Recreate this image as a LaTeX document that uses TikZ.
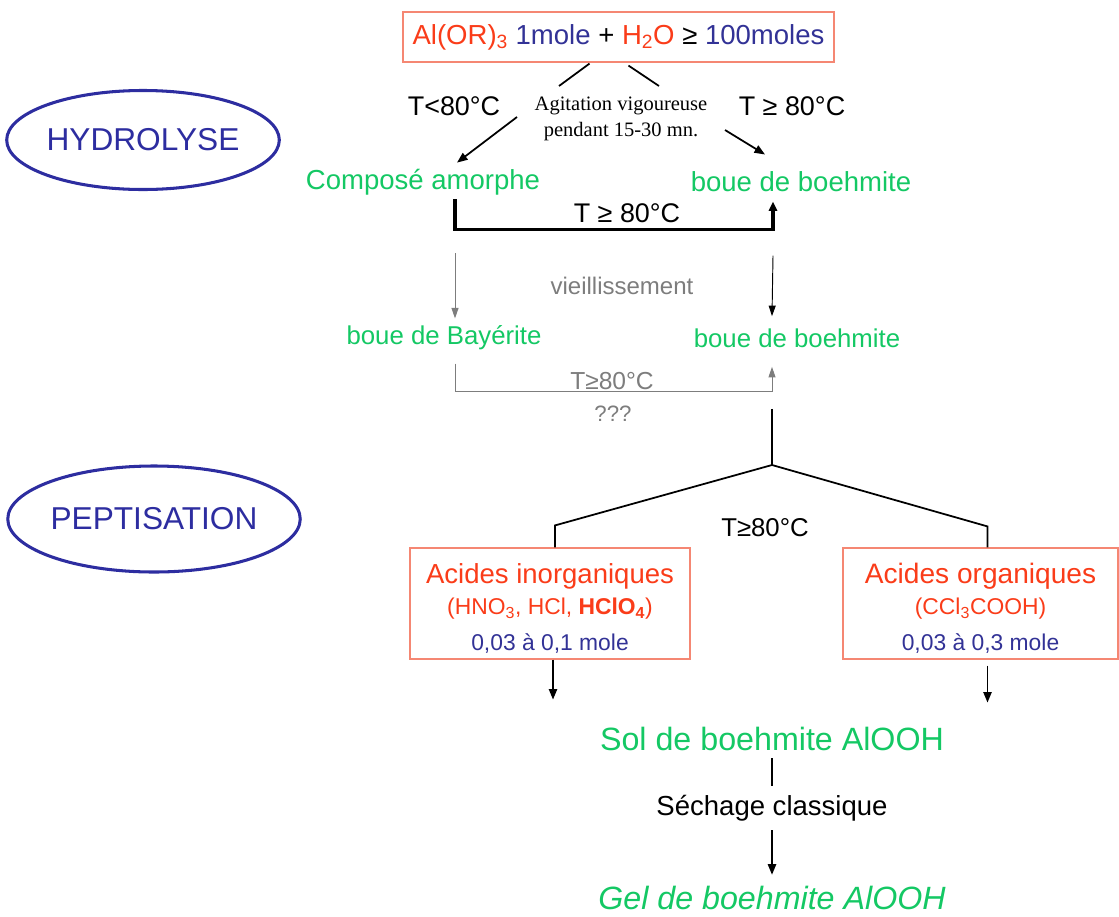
\documentclass[tikz,border=0pt]{standalone}
\usepackage{fontspec}
\setmainfont{Liberation Sans}
\newfontfamily\agitfont{Liberation Serif}
\usepackage{xcolor}
\usetikzlibrary{arrows.meta, positioning, calc, shapes.geometric}
\definecolor{acidred}{RGB}{250, 60, 25}
\definecolor{boxred}{RGB}{245, 135, 115}
\definecolor{moleblue}{RGB}{50, 50, 150}
\definecolor{phaseblue}{RGB}{45, 45, 160}
\definecolor{solgreen}{RGB}{20, 200, 100}
\definecolor{agegray}{RGB}{125, 125, 125}

\begin{document}
\begin{tikzpicture}[x=0.03cm, y=-0.03cm,
    txt/.style={inner sep=1pt},
    greentxt/.style={txt, text=solgreen},
    graytxt/.style={txt, text=agegray},
    redbox/.style={draw=boxred, line width=1pt, align=center, inner sep=0pt, minimum height=3.33cm},
    phase/.style={ellipse, draw=phaseblue, line width=2.6pt, text=phaseblue, inner sep=0pt, font=\fontsize{27}{27}\selectfont},
    pen/.style={line width=1.5pt},
    flow/.style={pen, -{Triangle[length=9pt, width=7pt]}},
    ageflow/.style={line width=0.8pt, -{Triangle[length=9pt, width=6pt]}},
  ]
    \useasboundingbox (0,0) rectangle (1119,916);

    % phases
    \node[phase, minimum width=7.6cm, minimum height=2.97cm] (hydro) at (143,140) {HYDROLYSE};
    \node[phase, minimum width=8.4cm, minimum height=3.18cm] (pepti) at (154,519) {PEPTISATION};

    % hydrolyse
    \node[redbox, minimum width=12.93cm, minimum height=1.5cm, font=\fontsize{23.5}{23.5}\selectfont] (top) at (618.5,37)
        {\textcolor{acidred}{Al(OR)\textsubscript{3}} \textcolor{moleblue}{1mole} + \textcolor{acidred}{H\textsubscript{2}O} ≥ \textcolor{moleblue}{100moles}};
    \node[txt, font=\fontsize{23}{23}\selectfont] (tlow) at (454,106) {T<80°C};
    \node[txt, font=\fontsize{23}{23}\selectfont] (thigh) at (792,106) {T ≥ 80°C};
    \node[txt, align=center, font=\agitfont\fontsize{17.5}{22}\selectfont] (agit) at (621,119) {Agitation vigoureuse\\pendant 15-30 mn.};
    \node[greentxt, font=\fontsize{23.5}{23.5}\selectfont] (amorph) at (423,182) {Composé amorphe};
    \node[greentxt, font=\fontsize{23.5}{23.5}\selectfont] (boehA) at (801,182) {boue de boehmite};

    \coordinate (agL1) at (559,86);
    \coordinate (agL2) at (517,117);
    \coordinate (agR1) at (659,86);
    \coordinate (agR2) at (725,130);
    \draw[pen] ($(top.south)+(-29,1)$) -- (agL1);
    \draw[flow] (agL2) -- ($(amorph.north)+(34,-5)$);
    \draw[pen] ($(top.south)+(10,3)$) -- (agR1);
    \draw[flow] (agR2) -- ($(boehA.north)+(-36,-16)$);

    \draw[line width=2.8pt, -{Triangle[length=8pt, width=7pt]}] ($(amorph.south)+(32,3)$) -- ++(0,30) -| ($(boehA.south)+(-28,8)$);
    \node[txt, font=\fontsize{23}{23}\selectfont] (tbrack) at (627,213) {T ≥ 80°C};

    % vieillissement
    \node[graytxt, font=\fontsize{20.5}{20.5}\selectfont] (vieil) at (622,286) {vieillissement};
    \node[greentxt, font=\fontsize{22}{22}\selectfont] (bayer) at (444,338) {boue de Bayérite};
    \node[greentxt, font=\fontsize{22}{22}\selectfont] (boehB) at (797,338) {boue de boehmite};
    \draw[ageflow, agegray] ($(amorph.south)+(32,57)$) -- ($(bayer.north)+(11,-6)$);
    \draw[ageflow] ($(boehA.south)+(-28,62)$) -- ($(boehB.north)+(-25,-11)$);

    \draw[ageflow, agegray] ($(bayer.south)+(11,12)$) -- ++(0,28) -| ($(boehB.south)+(-25,18)$);
    \node[graytxt, font=\fontsize{21}{21}\selectfont] (tgray) at (612,381) {T≥80°C};
    \node[graytxt, font=\fontsize{19}{19}\selectfont] (qmark) at (613,414) {???};

    % peptisation
    \node[redbox, minimum width=8.4cm, font=\fontsize{19.5}{26.5}\selectfont] (inorg) at (550,603.5)
        {{\color{acidred}\fontsize{23.5}{26.5}\selectfont\rule{0pt}{25.5pt}Acides inorganiques}\\
         {\color{acidred}(HNO\textsubscript{3}, HCl, \textbf{HClO\textsubscript{4}})}\\[4pt]
         {\color{moleblue}0,03 à 0,1 mole}};
    \node[redbox, minimum width=8.25cm, font=\fontsize{19.5}{26.5}\selectfont] (org) at (980.5,603.5)
        {{\color{acidred}\fontsize{24}{26.5}\selectfont\rule{0pt}{25.5pt}Acides organiques}\\
         {\color{acidred}(CCl\textsubscript{3}COOH)}\\[4pt]
         {\color{moleblue}0,03 à 0,3 mole}};

    \coordinate (split) at (772,465);
    \draw[pen] ($(boehB.south)+(-25,60)$) -- (split);
    \draw[pen] (split) -- ($(inorg.north)+(5,-22)$) -- ($(inorg.north)+(5,0)$);
    \draw[pen] (split) -- ($(org.north)+(7,-21)$) -- ($(org.north)+(7,0)$);
    \node[txt, font=\fontsize{22}{22}\selectfont] (tpep) at (765,528) {T≥80°C};

    \draw[flow] ($(inorg.south)+(3,0)$) -- ++(0,40);
    \draw[flow] ($(org.south)+(7,6)$) -- ++(0,37);

    % sol et gel
    \node[greentxt, font=\fontsize{27.5}{27.5}\selectfont] (sol) at (772,739) {Sol de boehmite AlOOH};
    \node[txt, font=\fontsize{23.5}{23.5}\selectfont] (sech) at (772,808) {Séchage classique};
    \node[greentxt, font=\itshape\fontsize{27.5}{27.5}\selectfont] (gel) at (772,898) {Gel de boehmite AlOOH};
    \draw[pen] ($(sol.south)+(0,6)$) -- ($(sech.north)+(0,-8)$);
    \draw[flow] ($(sech.south)+(0,8)$) -- ($(gel.north)+(0,-10)$);
\end{tikzpicture}
\end{document}
